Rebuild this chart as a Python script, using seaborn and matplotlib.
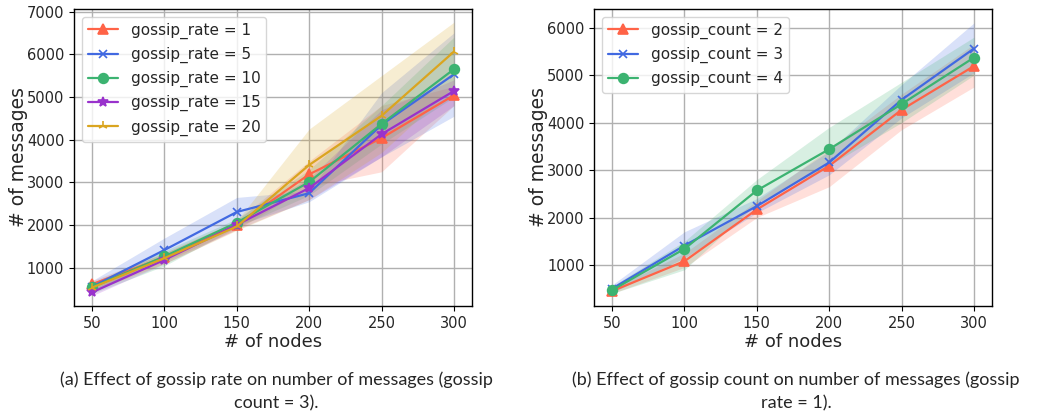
import seaborn as sns
import matplotlib.pyplot as plt
import pandas as pd

nodes = [50, 100, 150, 200, 250, 300]

# (a) gossip rate, gossip count = 3
rates = [1, 5, 10, 15, 20]
rate_mean = [
    [620, 1250, 2000, 3190, 4040, 5040],
    [560, 1420, 2310, 2750, 4350, 5530],
    [550, 1270, 2060, 3010, 4370, 5650],
    [430, 1190, 2010, 2870, 4130, 5140],
    [540, 1230, 1970, 3410, 4560, 6060],
]
rate_lo = [
    [500, 1150, 1900, 2900, 3250, 4800],
    [450, 1250, 2000, 2550, 3600, 4550],
    [400, 1050, 1950, 2700, 3900, 5000],
    [350, 1100, 1900, 2600, 3600, 4800],
    [450, 1100, 1880, 2600, 3700, 5250],
]
rate_hi = [
    [700, 1350, 2100, 3500, 4800, 5250],
    [700, 1700, 2650, 2800, 5100, 6500],
    [650, 1400, 2150, 3300, 4800, 6400],
    [500, 1300, 2100, 3100, 4700, 5400],
    [650, 1350, 2100, 4250, 5500, 6750],
]

# (b) gossip count, gossip rate = 1
counts = [2, 3, 4]
count_mean = [
    [450, 1080, 2170, 3090, 4270, 5190],
    [500, 1410, 2240, 3160, 4480, 5560],
    [470, 1340, 2570, 3440, 4390, 5370],
]
count_lo = [
    [400, 950, 2000, 2650, 3850, 4750],
    [420, 1150, 2100, 2900, 4100, 5050],
    [400, 900, 2300, 3100, 4000, 5000],
]
count_hi = [
    [500, 1250, 2350, 3450, 4600, 5650],
    [580, 1700, 2400, 3400, 4800, 6100],
    [550, 1500, 2800, 3900, 4850, 5800],
]

captions = [
    "(a) Effect of gossip rate on number of messages (gossip\ncount = 3).",
    "(b) Effect of gossip count on number of messages (gossip\nrate = 1).",
]

colors = ["#ff6347", "#4169e1", "#3cb371", "#9932cc", "#daa520"]
markers = ["^", "x", "o", "*", "2"]
sizes = [7, 6, 7, 7, 7]

sns.set_style("ticks")
plt.rcParams["font.family"] = ["DejaVu Sans"]

fig = plt.figure(figsize=(10.38, 4.18), dpi=100)
ax1 = fig.add_axes([0.0713, 0.268, 0.3834, 0.7105])
ax2 = fig.add_axes([0.5723, 0.268, 0.3834, 0.7105])


def draw(ax, name, keys, mean, lo, hi, ylim):
    for i, k in enumerate(keys):
        df = pd.DataFrame({"nodes": nodes, "messages": mean[i]})
        ax.fill_between(nodes, lo[i], hi[i], color=colors[i], alpha=0.2,
                        linewidth=0)
        sns.lineplot(data=df, x="nodes", y="messages", color=colors[i],
                     marker=markers[i], markersize=sizes[i],
                     markeredgewidth=1.2, markeredgecolor=colors[i],
                     linewidth=1.6, label=f"{name} = {k}", ax=ax)
    ax.set_xlim(37.5, 312.5)
    ax.set_ylim(*ylim)
    ax.set_xticks(nodes)
    ax.grid(True, color="#b0b0b0", linewidth=1)
    for sp in ax.spines.values():
        sp.set_visible(True)
        sp.set_color("black")
        sp.set_linewidth(1)
    ax.tick_params(labelsize=10.5, length=3.5, width=0.8, color="black")
    ax.set_xlabel("# of nodes", fontsize=13, labelpad=2)
    ax.set_ylabel("# of messages", fontsize=13.5, labelpad=-1)
    ax.legend(loc="upper left", fontsize=11, handlelength=2.0,
              labelspacing=0.52, framealpha=0.8, edgecolor="#cccccc")


draw(ax1, "gossip_rate", rates, rate_mean, rate_lo, rate_hi, (110, 7060))
draw(ax2, "gossip_count", counts, count_mean, count_lo, count_hi, (136, 6394))

fig.text(0.266, 0.063, captions[0], ha="center", va="center",
         fontsize=13, family="Lato", linespacing=1.55)
fig.text(0.767, 0.063, captions[1], ha="center", va="center",
         fontsize=13, family="Lato", linespacing=1.55)

plt.savefig("out.png", dpi=100)
